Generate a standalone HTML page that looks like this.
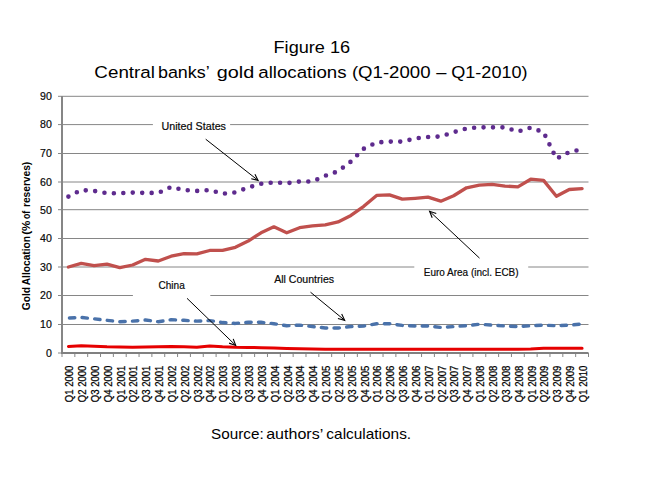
<!DOCTYPE html>
<html><head><meta charset="utf-8"><style>
html,body{margin:0;padding:0;background:#fff;width:671px;height:485px;overflow:hidden}
svg{display:block}
text{font-family:"Liberation Sans",sans-serif}
</style></head><body>
<svg width="671" height="485" viewBox="0 0 671 485"><rect x="0" y="0" width="671" height="485" fill="#fff"/>
<line x1="62.0" y1="324.50" x2="588.5" y2="324.50" stroke="#868686" stroke-width="1"/>
<line x1="62.0" y1="295.50" x2="588.5" y2="295.50" stroke="#868686" stroke-width="1"/>
<line x1="62.0" y1="267.00" x2="588.5" y2="267.00" stroke="#868686" stroke-width="1"/>
<line x1="62.0" y1="238.50" x2="588.5" y2="238.50" stroke="#868686" stroke-width="1"/>
<line x1="62.0" y1="209.70" x2="588.5" y2="209.70" stroke="#868686" stroke-width="1"/>
<line x1="62.0" y1="182.00" x2="588.5" y2="182.00" stroke="#868686" stroke-width="1"/>
<line x1="62.0" y1="153.50" x2="588.5" y2="153.50" stroke="#868686" stroke-width="1"/>
<line x1="62.0" y1="124.60" x2="588.5" y2="124.60" stroke="#868686" stroke-width="1"/>
<line x1="62.0" y1="96.30" x2="588.5" y2="96.30" stroke="#868686" stroke-width="1"/>
<line x1="58" y1="353.00" x2="62.0" y2="353.00" stroke="#868686" stroke-width="1"/>
<line x1="58" y1="324.50" x2="62.0" y2="324.50" stroke="#868686" stroke-width="1"/>
<line x1="58" y1="295.50" x2="62.0" y2="295.50" stroke="#868686" stroke-width="1"/>
<line x1="58" y1="267.00" x2="62.0" y2="267.00" stroke="#868686" stroke-width="1"/>
<line x1="58" y1="238.50" x2="62.0" y2="238.50" stroke="#868686" stroke-width="1"/>
<line x1="58" y1="209.70" x2="62.0" y2="209.70" stroke="#868686" stroke-width="1"/>
<line x1="58" y1="182.00" x2="62.0" y2="182.00" stroke="#868686" stroke-width="1"/>
<line x1="58" y1="153.50" x2="62.0" y2="153.50" stroke="#868686" stroke-width="1"/>
<line x1="58" y1="124.60" x2="62.0" y2="124.60" stroke="#868686" stroke-width="1"/>
<line x1="58" y1="96.30" x2="62.0" y2="96.30" stroke="#868686" stroke-width="1"/>
<line x1="62.00" y1="353" x2="62.00" y2="357" stroke="#868686" stroke-width="1"/>
<line x1="74.84" y1="353" x2="74.84" y2="357" stroke="#868686" stroke-width="1"/>
<line x1="87.68" y1="353" x2="87.68" y2="357" stroke="#868686" stroke-width="1"/>
<line x1="100.52" y1="353" x2="100.52" y2="357" stroke="#868686" stroke-width="1"/>
<line x1="113.37" y1="353" x2="113.37" y2="357" stroke="#868686" stroke-width="1"/>
<line x1="126.21" y1="353" x2="126.21" y2="357" stroke="#868686" stroke-width="1"/>
<line x1="139.05" y1="353" x2="139.05" y2="357" stroke="#868686" stroke-width="1"/>
<line x1="151.89" y1="353" x2="151.89" y2="357" stroke="#868686" stroke-width="1"/>
<line x1="164.73" y1="353" x2="164.73" y2="357" stroke="#868686" stroke-width="1"/>
<line x1="177.57" y1="353" x2="177.57" y2="357" stroke="#868686" stroke-width="1"/>
<line x1="190.41" y1="353" x2="190.41" y2="357" stroke="#868686" stroke-width="1"/>
<line x1="203.26" y1="353" x2="203.26" y2="357" stroke="#868686" stroke-width="1"/>
<line x1="216.10" y1="353" x2="216.10" y2="357" stroke="#868686" stroke-width="1"/>
<line x1="228.94" y1="353" x2="228.94" y2="357" stroke="#868686" stroke-width="1"/>
<line x1="241.78" y1="353" x2="241.78" y2="357" stroke="#868686" stroke-width="1"/>
<line x1="254.62" y1="353" x2="254.62" y2="357" stroke="#868686" stroke-width="1"/>
<line x1="267.46" y1="353" x2="267.46" y2="357" stroke="#868686" stroke-width="1"/>
<line x1="280.30" y1="353" x2="280.30" y2="357" stroke="#868686" stroke-width="1"/>
<line x1="293.15" y1="353" x2="293.15" y2="357" stroke="#868686" stroke-width="1"/>
<line x1="305.99" y1="353" x2="305.99" y2="357" stroke="#868686" stroke-width="1"/>
<line x1="318.83" y1="353" x2="318.83" y2="357" stroke="#868686" stroke-width="1"/>
<line x1="331.67" y1="353" x2="331.67" y2="357" stroke="#868686" stroke-width="1"/>
<line x1="344.51" y1="353" x2="344.51" y2="357" stroke="#868686" stroke-width="1"/>
<line x1="357.35" y1="353" x2="357.35" y2="357" stroke="#868686" stroke-width="1"/>
<line x1="370.20" y1="353" x2="370.20" y2="357" stroke="#868686" stroke-width="1"/>
<line x1="383.04" y1="353" x2="383.04" y2="357" stroke="#868686" stroke-width="1"/>
<line x1="395.88" y1="353" x2="395.88" y2="357" stroke="#868686" stroke-width="1"/>
<line x1="408.72" y1="353" x2="408.72" y2="357" stroke="#868686" stroke-width="1"/>
<line x1="421.56" y1="353" x2="421.56" y2="357" stroke="#868686" stroke-width="1"/>
<line x1="434.40" y1="353" x2="434.40" y2="357" stroke="#868686" stroke-width="1"/>
<line x1="447.24" y1="353" x2="447.24" y2="357" stroke="#868686" stroke-width="1"/>
<line x1="460.09" y1="353" x2="460.09" y2="357" stroke="#868686" stroke-width="1"/>
<line x1="472.93" y1="353" x2="472.93" y2="357" stroke="#868686" stroke-width="1"/>
<line x1="485.77" y1="353" x2="485.77" y2="357" stroke="#868686" stroke-width="1"/>
<line x1="498.61" y1="353" x2="498.61" y2="357" stroke="#868686" stroke-width="1"/>
<line x1="511.45" y1="353" x2="511.45" y2="357" stroke="#868686" stroke-width="1"/>
<line x1="524.29" y1="353" x2="524.29" y2="357" stroke="#868686" stroke-width="1"/>
<line x1="537.13" y1="353" x2="537.13" y2="357" stroke="#868686" stroke-width="1"/>
<line x1="549.98" y1="353" x2="549.98" y2="357" stroke="#868686" stroke-width="1"/>
<line x1="562.82" y1="353" x2="562.82" y2="357" stroke="#868686" stroke-width="1"/>
<line x1="575.66" y1="353" x2="575.66" y2="357" stroke="#868686" stroke-width="1"/>
<line x1="588.50" y1="353" x2="588.50" y2="357" stroke="#868686" stroke-width="1"/>
<polyline points="68.42,346.51 81.26,345.66 94.10,346.23 106.95,346.80 119.79,347.08 132.63,347.23 145.47,347.08 158.31,346.80 171.15,346.51 183.99,346.80 196.84,347.23 209.68,345.94 222.52,346.80 235.36,347.37 248.20,347.51 261.04,347.65 273.88,347.94 286.73,348.51 299.57,348.80 312.41,349.08 325.25,349.22 338.09,349.22 350.93,349.22 363.77,349.22 376.62,349.22 389.46,349.22 402.30,349.22 415.14,349.22 427.98,349.22 440.82,349.37 453.66,349.37 466.51,349.37 479.35,349.37 492.19,349.37 505.03,349.37 517.87,349.37 530.71,349.08 543.55,348.23 556.40,348.23 569.24,348.23 582.08,348.23" fill="none" stroke="#e60000" stroke-width="3.0" stroke-linejoin="round" stroke-linecap="round"/>
<polyline points="68.42,318.01 81.26,317.44 94.10,318.87 106.95,320.30 119.79,321.72 132.63,321.15 145.47,320.01 158.31,321.72 171.15,319.73 183.99,320.30 196.84,321.15 209.68,320.58 222.52,322.57 235.36,323.43 248.20,322.29 261.04,322.29 273.88,323.71 286.73,325.71 299.57,325.14 312.41,326.56 325.25,327.99 338.09,327.99 350.93,326.56 363.77,326.00 376.62,323.71 389.46,323.71 402.30,325.43 415.14,326.00 427.98,326.00 440.82,327.42 453.66,326.56 466.51,325.71 479.35,324.28 492.19,325.14 505.03,326.00 517.87,326.56 530.71,325.71 543.55,325.14 556.40,325.71 569.24,325.14 582.08,324.00" fill="none" stroke="#4a72aa" stroke-width="3.4" stroke-dasharray="5.4 7.26" stroke-dashoffset="-1.0" stroke-linecap="round" stroke-linejoin="round"/>
<polyline points="68.42,267.00 81.26,263.30 94.10,265.57 106.95,264.15 119.79,267.57 132.63,265.00 145.47,259.31 158.31,261.01 171.15,256.17 183.99,253.60 196.84,253.89 209.68,250.47 222.52,250.47 235.36,247.33 248.20,241.06 261.04,232.80 273.88,226.81 286.73,232.80 299.57,227.67 312.41,225.96 325.25,224.82 338.09,221.97 350.93,215.41 363.77,206.30 376.62,195.47 389.46,194.90 402.30,199.17 415.14,198.31 427.98,197.17 440.82,201.16 453.66,195.75 466.51,187.77 479.35,185.20 492.19,184.35 505.03,186.06 517.87,186.91 530.71,179.22 543.55,180.36 556.40,196.32 569.24,189.48 582.08,188.62" fill="none" stroke="#c0504d" stroke-width="3.3" stroke-linejoin="round" stroke-linecap="round"/>
<polyline points="68.42,196.60 81.26,190.05 94.10,190.90 106.95,193.19 119.79,193.19 132.63,192.61 145.47,192.90 158.31,192.90 171.15,186.91 183.99,190.05 196.84,190.90 209.68,190.05 222.52,193.75 235.36,192.33 248.20,187.48 261.04,183.78 273.88,182.35 286.73,183.21 299.57,181.50 312.41,181.50 325.25,175.80 338.09,171.24 350.93,161.55 363.77,148.72 376.62,142.45 389.46,141.60 402.30,141.60 415.14,138.47 427.98,137.04 440.82,136.47 453.66,132.19 466.51,128.49 479.35,127.35 492.19,127.35 505.03,127.35 517.87,131.62 530.71,127.63 543.55,132.19 556.40,158.70 569.24,152.15 582.08,149.30" fill="none" stroke="#5e2b8e" stroke-width="4.6" stroke-dasharray="0 9.45" stroke-linecap="round" stroke-linejoin="round"/>
<rect x="152.9" y="118" width="77.2" height="14" fill="#fff"/>
<rect x="414.3" y="262" width="113.9" height="16" fill="#fff"/>
<rect x="132.9" y="278" width="77.4" height="20" fill="#fff"/>
<line x1="62.0" y1="96" x2="62.0" y2="353.5" stroke="#868686" stroke-width="2"/>
<line x1="61.0" y1="353" x2="588.5" y2="353" stroke="#808080" stroke-width="2"/>
<line x1="205.7" y1="139.2" x2="258.1" y2="180.4" stroke="#000" stroke-width="1.0"/><polyline points="254.94,174.15 258.1,180.4 251.28,178.80" fill="none" stroke="#000" stroke-width="1.1"/>
<line x1="479.5" y1="258.1" x2="429.6" y2="211.3" stroke="#000" stroke-width="1.0"/><polyline points="432.20,217.80 429.6,211.3 436.25,213.48" fill="none" stroke="#000" stroke-width="1.1"/>
<line x1="310.5" y1="292.2" x2="344.7" y2="320.3" stroke="#000" stroke-width="1.0"/><polyline points="341.68,313.99 344.7,320.3 337.92,318.56" fill="none" stroke="#000" stroke-width="1.1"/>
<line x1="187.0" y1="298.3" x2="235.7" y2="345.4" stroke="#000" stroke-width="1.0"/><polyline points="233.20,338.86 235.7,345.4 229.08,343.12" fill="none" stroke="#000" stroke-width="1.1"/>
<text x="273.56" y="52.5" font-size="16.6" font-family="Liberation Sans, sans-serif" font-weight="normal" fill="#000" text-anchor="start" textLength="76.61" lengthAdjust="spacingAndGlyphs" >Figure 16</text>
<text x="94.39" y="77.7" font-size="16.9" font-family="Liberation Sans, sans-serif" font-weight="normal" fill="#000" text-anchor="start" textLength="60.57" lengthAdjust="spacingAndGlyphs" >Central</text>
<text x="157.93" y="77.7" font-size="16.9" font-family="Liberation Sans, sans-serif" font-weight="normal" fill="#000" text-anchor="start" textLength="51.8" lengthAdjust="spacingAndGlyphs" >banks’</text>
<text x="216.76" y="77.7" font-size="16.9" font-family="Liberation Sans, sans-serif" font-weight="normal" fill="#000" text-anchor="start" textLength="37.45" lengthAdjust="spacingAndGlyphs" >gold</text>
<text x="258.24" y="77.7" font-size="16.9" font-family="Liberation Sans, sans-serif" font-weight="normal" fill="#000" text-anchor="start" textLength="88.32" lengthAdjust="spacingAndGlyphs" >allocations</text>
<text x="351.92" y="77.7" font-size="16.9" font-family="Liberation Sans, sans-serif" font-weight="normal" fill="#000" text-anchor="start" textLength="78.57" lengthAdjust="spacingAndGlyphs" >(Q1-2000</text>
<text x="436.2" y="77.7" font-size="16.9" font-family="Liberation Sans, sans-serif" font-weight="normal" fill="#000" text-anchor="start" textLength="10.2" lengthAdjust="spacingAndGlyphs" >–</text>
<text x="451.24" y="77.7" font-size="16.9" font-family="Liberation Sans, sans-serif" font-weight="normal" fill="#000" text-anchor="start" textLength="76.32" lengthAdjust="spacingAndGlyphs" >Q1-2010)</text>
<text x="211.11" y="438.8" font-size="14.4" font-family="Liberation Sans, sans-serif" font-weight="normal" fill="#000" text-anchor="start" textLength="52.6" lengthAdjust="spacingAndGlyphs" >Source:</text>
<text x="266.19" y="438.8" font-size="14.4" font-family="Liberation Sans, sans-serif" font-weight="normal" fill="#000" text-anchor="start" textLength="57.07" lengthAdjust="spacingAndGlyphs" >authors’</text>
<text x="326.36" y="438.8" font-size="14.4" font-family="Liberation Sans, sans-serif" font-weight="normal" fill="#000" text-anchor="start" textLength="84.81" lengthAdjust="spacingAndGlyphs" >calculations.</text>
<text x="161.5" y="130.0" font-size="10.6" font-family="Liberation Sans, sans-serif" font-weight="normal" fill="#000" text-anchor="start" textLength="64.5" lengthAdjust="spacingAndGlyphs" stroke="#222" stroke-width="0.2">United States</text>
<text x="423.8" y="276.2" font-size="10.6" font-family="Liberation Sans, sans-serif" font-weight="normal" fill="#000" text-anchor="start" textLength="94.8" lengthAdjust="spacingAndGlyphs" stroke="#222" stroke-width="0.2">Euro Area (incl. ECB)</text>
<text x="274.2" y="282.9" font-size="10.6" font-family="Liberation Sans, sans-serif" font-weight="normal" fill="#000" text-anchor="start" textLength="59.9" lengthAdjust="spacingAndGlyphs" stroke="#222" stroke-width="0.2">All Countries</text>
<text x="158.5" y="288.8" font-size="10.6" font-family="Liberation Sans, sans-serif" font-weight="normal" fill="#000" text-anchor="start" textLength="26.3" lengthAdjust="spacingAndGlyphs" stroke="#222" stroke-width="0.2">China</text>
<text x="51.9" y="356.8" font-size="10.6" font-family="Liberation Sans, sans-serif" font-weight="normal" fill="#000" text-anchor="end" stroke="#222" stroke-width="0.2">0</text>
<text x="51.9" y="328.3" font-size="10.6" font-family="Liberation Sans, sans-serif" font-weight="normal" fill="#000" text-anchor="end" stroke="#222" stroke-width="0.2">10</text>
<text x="51.9" y="299.3" font-size="10.6" font-family="Liberation Sans, sans-serif" font-weight="normal" fill="#000" text-anchor="end" stroke="#222" stroke-width="0.2">20</text>
<text x="51.9" y="270.8" font-size="10.6" font-family="Liberation Sans, sans-serif" font-weight="normal" fill="#000" text-anchor="end" stroke="#222" stroke-width="0.2">30</text>
<text x="51.9" y="242.3" font-size="10.6" font-family="Liberation Sans, sans-serif" font-weight="normal" fill="#000" text-anchor="end" stroke="#222" stroke-width="0.2">40</text>
<text x="51.9" y="213.5" font-size="10.6" font-family="Liberation Sans, sans-serif" font-weight="normal" fill="#000" text-anchor="end" stroke="#222" stroke-width="0.2">50</text>
<text x="51.9" y="185.8" font-size="10.6" font-family="Liberation Sans, sans-serif" font-weight="normal" fill="#000" text-anchor="end" stroke="#222" stroke-width="0.2">60</text>
<text x="51.9" y="157.3" font-size="10.6" font-family="Liberation Sans, sans-serif" font-weight="normal" fill="#000" text-anchor="end" stroke="#222" stroke-width="0.2">70</text>
<text x="51.9" y="128.4" font-size="10.6" font-family="Liberation Sans, sans-serif" font-weight="normal" fill="#000" text-anchor="end" stroke="#222" stroke-width="0.2">80</text>
<text x="51.9" y="100.1" font-size="10.6" font-family="Liberation Sans, sans-serif" font-weight="normal" fill="#000" text-anchor="end" stroke="#222" stroke-width="0.2">90</text>
<g transform="translate(30.3,310.31) rotate(-90)"><text x="0" y="0" font-size="11.2" font-family="Liberation Sans, sans-serif" font-weight="bold" fill="#000" text-anchor="start" textLength="23.35" lengthAdjust="spacingAndGlyphs" >Gold</text></g>
<g transform="translate(30.3,285.27) rotate(-90)"><text x="0" y="0" font-size="11.2" font-family="Liberation Sans, sans-serif" font-weight="bold" fill="#000" text-anchor="start" textLength="49.36" lengthAdjust="spacingAndGlyphs" >Allocation</text></g>
<g transform="translate(30.3,234.87) rotate(-90)"><text x="0" y="0" font-size="11.2" font-family="Liberation Sans, sans-serif" font-weight="bold" fill="#000" text-anchor="start" textLength="14.29" lengthAdjust="spacingAndGlyphs" >(%</text></g>
<g transform="translate(30.3,218.95) rotate(-90)"><text x="0" y="0" font-size="11.2" font-family="Liberation Sans, sans-serif" font-weight="bold" fill="#000" text-anchor="start" textLength="8.23" lengthAdjust="spacingAndGlyphs" >of</text></g>
<g transform="translate(30.3,207.08) rotate(-90)"><text x="0" y="0" font-size="11.2" font-family="Liberation Sans, sans-serif" font-weight="bold" fill="#000" text-anchor="start" textLength="45.33" lengthAdjust="spacingAndGlyphs" >reserves)</text></g>
<g transform="translate(73.22,402.2) rotate(-90)"><text x="0" y="0" font-size="10.8" font-family="Liberation Sans, sans-serif" font-weight="normal" fill="#000" text-anchor="start" textLength="36.6" lengthAdjust="spacingAndGlyphs" stroke="#000" stroke-width="0.25">Q1 2000</text></g>
<g transform="translate(86.06,402.2) rotate(-90)"><text x="0" y="0" font-size="10.8" font-family="Liberation Sans, sans-serif" font-weight="normal" fill="#000" text-anchor="start" textLength="36.6" lengthAdjust="spacingAndGlyphs" stroke="#000" stroke-width="0.25">Q2 2000</text></g>
<g transform="translate(98.90,402.2) rotate(-90)"><text x="0" y="0" font-size="10.8" font-family="Liberation Sans, sans-serif" font-weight="normal" fill="#000" text-anchor="start" textLength="36.6" lengthAdjust="spacingAndGlyphs" stroke="#000" stroke-width="0.25">Q3 2000</text></g>
<g transform="translate(111.75,402.2) rotate(-90)"><text x="0" y="0" font-size="10.8" font-family="Liberation Sans, sans-serif" font-weight="normal" fill="#000" text-anchor="start" textLength="36.6" lengthAdjust="spacingAndGlyphs" stroke="#000" stroke-width="0.25">Q4 2000</text></g>
<g transform="translate(124.59,402.2) rotate(-90)"><text x="0" y="0" font-size="10.8" font-family="Liberation Sans, sans-serif" font-weight="normal" fill="#000" text-anchor="start" textLength="36.6" lengthAdjust="spacingAndGlyphs" stroke="#000" stroke-width="0.25">Q1 2001</text></g>
<g transform="translate(137.43,402.2) rotate(-90)"><text x="0" y="0" font-size="10.8" font-family="Liberation Sans, sans-serif" font-weight="normal" fill="#000" text-anchor="start" textLength="36.6" lengthAdjust="spacingAndGlyphs" stroke="#000" stroke-width="0.25">Q2 2001</text></g>
<g transform="translate(150.27,402.2) rotate(-90)"><text x="0" y="0" font-size="10.8" font-family="Liberation Sans, sans-serif" font-weight="normal" fill="#000" text-anchor="start" textLength="36.6" lengthAdjust="spacingAndGlyphs" stroke="#000" stroke-width="0.25">Q3 2001</text></g>
<g transform="translate(163.11,402.2) rotate(-90)"><text x="0" y="0" font-size="10.8" font-family="Liberation Sans, sans-serif" font-weight="normal" fill="#000" text-anchor="start" textLength="36.6" lengthAdjust="spacingAndGlyphs" stroke="#000" stroke-width="0.25">Q4 2001</text></g>
<g transform="translate(175.95,402.2) rotate(-90)"><text x="0" y="0" font-size="10.8" font-family="Liberation Sans, sans-serif" font-weight="normal" fill="#000" text-anchor="start" textLength="36.6" lengthAdjust="spacingAndGlyphs" stroke="#000" stroke-width="0.25">Q1 2002</text></g>
<g transform="translate(188.79,402.2) rotate(-90)"><text x="0" y="0" font-size="10.8" font-family="Liberation Sans, sans-serif" font-weight="normal" fill="#000" text-anchor="start" textLength="36.6" lengthAdjust="spacingAndGlyphs" stroke="#000" stroke-width="0.25">Q2 2002</text></g>
<g transform="translate(201.64,402.2) rotate(-90)"><text x="0" y="0" font-size="10.8" font-family="Liberation Sans, sans-serif" font-weight="normal" fill="#000" text-anchor="start" textLength="36.6" lengthAdjust="spacingAndGlyphs" stroke="#000" stroke-width="0.25">Q3 2002</text></g>
<g transform="translate(214.48,402.2) rotate(-90)"><text x="0" y="0" font-size="10.8" font-family="Liberation Sans, sans-serif" font-weight="normal" fill="#000" text-anchor="start" textLength="36.6" lengthAdjust="spacingAndGlyphs" stroke="#000" stroke-width="0.25">Q4 2002</text></g>
<g transform="translate(227.32,402.2) rotate(-90)"><text x="0" y="0" font-size="10.8" font-family="Liberation Sans, sans-serif" font-weight="normal" fill="#000" text-anchor="start" textLength="36.6" lengthAdjust="spacingAndGlyphs" stroke="#000" stroke-width="0.25">Q1 2003</text></g>
<g transform="translate(240.16,402.2) rotate(-90)"><text x="0" y="0" font-size="10.8" font-family="Liberation Sans, sans-serif" font-weight="normal" fill="#000" text-anchor="start" textLength="36.6" lengthAdjust="spacingAndGlyphs" stroke="#000" stroke-width="0.25">Q2 2003</text></g>
<g transform="translate(253.00,402.2) rotate(-90)"><text x="0" y="0" font-size="10.8" font-family="Liberation Sans, sans-serif" font-weight="normal" fill="#000" text-anchor="start" textLength="36.6" lengthAdjust="spacingAndGlyphs" stroke="#000" stroke-width="0.25">Q3 2003</text></g>
<g transform="translate(265.84,402.2) rotate(-90)"><text x="0" y="0" font-size="10.8" font-family="Liberation Sans, sans-serif" font-weight="normal" fill="#000" text-anchor="start" textLength="36.6" lengthAdjust="spacingAndGlyphs" stroke="#000" stroke-width="0.25">Q4 2003</text></g>
<g transform="translate(278.68,402.2) rotate(-90)"><text x="0" y="0" font-size="10.8" font-family="Liberation Sans, sans-serif" font-weight="normal" fill="#000" text-anchor="start" textLength="36.6" lengthAdjust="spacingAndGlyphs" stroke="#000" stroke-width="0.25">Q1 2004</text></g>
<g transform="translate(291.53,402.2) rotate(-90)"><text x="0" y="0" font-size="10.8" font-family="Liberation Sans, sans-serif" font-weight="normal" fill="#000" text-anchor="start" textLength="36.6" lengthAdjust="spacingAndGlyphs" stroke="#000" stroke-width="0.25">Q2 2004</text></g>
<g transform="translate(304.37,402.2) rotate(-90)"><text x="0" y="0" font-size="10.8" font-family="Liberation Sans, sans-serif" font-weight="normal" fill="#000" text-anchor="start" textLength="36.6" lengthAdjust="spacingAndGlyphs" stroke="#000" stroke-width="0.25">Q3 2004</text></g>
<g transform="translate(317.21,402.2) rotate(-90)"><text x="0" y="0" font-size="10.8" font-family="Liberation Sans, sans-serif" font-weight="normal" fill="#000" text-anchor="start" textLength="36.6" lengthAdjust="spacingAndGlyphs" stroke="#000" stroke-width="0.25">Q4 2004</text></g>
<g transform="translate(330.05,402.2) rotate(-90)"><text x="0" y="0" font-size="10.8" font-family="Liberation Sans, sans-serif" font-weight="normal" fill="#000" text-anchor="start" textLength="36.6" lengthAdjust="spacingAndGlyphs" stroke="#000" stroke-width="0.25">Q1 2005</text></g>
<g transform="translate(342.89,402.2) rotate(-90)"><text x="0" y="0" font-size="10.8" font-family="Liberation Sans, sans-serif" font-weight="normal" fill="#000" text-anchor="start" textLength="36.6" lengthAdjust="spacingAndGlyphs" stroke="#000" stroke-width="0.25">Q2 2005</text></g>
<g transform="translate(355.73,402.2) rotate(-90)"><text x="0" y="0" font-size="10.8" font-family="Liberation Sans, sans-serif" font-weight="normal" fill="#000" text-anchor="start" textLength="36.6" lengthAdjust="spacingAndGlyphs" stroke="#000" stroke-width="0.25">Q3 2005</text></g>
<g transform="translate(368.57,402.2) rotate(-90)"><text x="0" y="0" font-size="10.8" font-family="Liberation Sans, sans-serif" font-weight="normal" fill="#000" text-anchor="start" textLength="36.6" lengthAdjust="spacingAndGlyphs" stroke="#000" stroke-width="0.25">Q4 2005</text></g>
<g transform="translate(381.42,402.2) rotate(-90)"><text x="0" y="0" font-size="10.8" font-family="Liberation Sans, sans-serif" font-weight="normal" fill="#000" text-anchor="start" textLength="36.6" lengthAdjust="spacingAndGlyphs" stroke="#000" stroke-width="0.25">Q1 2006</text></g>
<g transform="translate(394.26,402.2) rotate(-90)"><text x="0" y="0" font-size="10.8" font-family="Liberation Sans, sans-serif" font-weight="normal" fill="#000" text-anchor="start" textLength="36.6" lengthAdjust="spacingAndGlyphs" stroke="#000" stroke-width="0.25">Q2 2006</text></g>
<g transform="translate(407.10,402.2) rotate(-90)"><text x="0" y="0" font-size="10.8" font-family="Liberation Sans, sans-serif" font-weight="normal" fill="#000" text-anchor="start" textLength="36.6" lengthAdjust="spacingAndGlyphs" stroke="#000" stroke-width="0.25">Q3 2006</text></g>
<g transform="translate(419.94,402.2) rotate(-90)"><text x="0" y="0" font-size="10.8" font-family="Liberation Sans, sans-serif" font-weight="normal" fill="#000" text-anchor="start" textLength="36.6" lengthAdjust="spacingAndGlyphs" stroke="#000" stroke-width="0.25">Q4 2006</text></g>
<g transform="translate(432.78,402.2) rotate(-90)"><text x="0" y="0" font-size="10.8" font-family="Liberation Sans, sans-serif" font-weight="normal" fill="#000" text-anchor="start" textLength="36.6" lengthAdjust="spacingAndGlyphs" stroke="#000" stroke-width="0.25">Q1 2007</text></g>
<g transform="translate(445.62,402.2) rotate(-90)"><text x="0" y="0" font-size="10.8" font-family="Liberation Sans, sans-serif" font-weight="normal" fill="#000" text-anchor="start" textLength="36.6" lengthAdjust="spacingAndGlyphs" stroke="#000" stroke-width="0.25">Q2 2007</text></g>
<g transform="translate(458.46,402.2) rotate(-90)"><text x="0" y="0" font-size="10.8" font-family="Liberation Sans, sans-serif" font-weight="normal" fill="#000" text-anchor="start" textLength="36.6" lengthAdjust="spacingAndGlyphs" stroke="#000" stroke-width="0.25">Q3 2007</text></g>
<g transform="translate(471.31,402.2) rotate(-90)"><text x="0" y="0" font-size="10.8" font-family="Liberation Sans, sans-serif" font-weight="normal" fill="#000" text-anchor="start" textLength="36.6" lengthAdjust="spacingAndGlyphs" stroke="#000" stroke-width="0.25">Q4 2007</text></g>
<g transform="translate(484.15,402.2) rotate(-90)"><text x="0" y="0" font-size="10.8" font-family="Liberation Sans, sans-serif" font-weight="normal" fill="#000" text-anchor="start" textLength="36.6" lengthAdjust="spacingAndGlyphs" stroke="#000" stroke-width="0.25">Q1 2008</text></g>
<g transform="translate(496.99,402.2) rotate(-90)"><text x="0" y="0" font-size="10.8" font-family="Liberation Sans, sans-serif" font-weight="normal" fill="#000" text-anchor="start" textLength="36.6" lengthAdjust="spacingAndGlyphs" stroke="#000" stroke-width="0.25">Q2 2008</text></g>
<g transform="translate(509.83,402.2) rotate(-90)"><text x="0" y="0" font-size="10.8" font-family="Liberation Sans, sans-serif" font-weight="normal" fill="#000" text-anchor="start" textLength="36.6" lengthAdjust="spacingAndGlyphs" stroke="#000" stroke-width="0.25">Q3 2008</text></g>
<g transform="translate(522.67,402.2) rotate(-90)"><text x="0" y="0" font-size="10.8" font-family="Liberation Sans, sans-serif" font-weight="normal" fill="#000" text-anchor="start" textLength="36.6" lengthAdjust="spacingAndGlyphs" stroke="#000" stroke-width="0.25">Q4 2008</text></g>
<g transform="translate(535.51,402.2) rotate(-90)"><text x="0" y="0" font-size="10.8" font-family="Liberation Sans, sans-serif" font-weight="normal" fill="#000" text-anchor="start" textLength="36.6" lengthAdjust="spacingAndGlyphs" stroke="#000" stroke-width="0.25">Q1 2009</text></g>
<g transform="translate(548.35,402.2) rotate(-90)"><text x="0" y="0" font-size="10.8" font-family="Liberation Sans, sans-serif" font-weight="normal" fill="#000" text-anchor="start" textLength="36.6" lengthAdjust="spacingAndGlyphs" stroke="#000" stroke-width="0.25">Q2 2009</text></g>
<g transform="translate(561.20,402.2) rotate(-90)"><text x="0" y="0" font-size="10.8" font-family="Liberation Sans, sans-serif" font-weight="normal" fill="#000" text-anchor="start" textLength="36.6" lengthAdjust="spacingAndGlyphs" stroke="#000" stroke-width="0.25">Q3 2009</text></g>
<g transform="translate(574.04,402.2) rotate(-90)"><text x="0" y="0" font-size="10.8" font-family="Liberation Sans, sans-serif" font-weight="normal" fill="#000" text-anchor="start" textLength="36.6" lengthAdjust="spacingAndGlyphs" stroke="#000" stroke-width="0.25">Q4 2009</text></g>
<g transform="translate(586.88,402.2) rotate(-90)"><text x="0" y="0" font-size="10.8" font-family="Liberation Sans, sans-serif" font-weight="normal" fill="#000" text-anchor="start" textLength="36.6" lengthAdjust="spacingAndGlyphs" stroke="#000" stroke-width="0.25">Q1 2010</text></g></svg>
</body></html>
